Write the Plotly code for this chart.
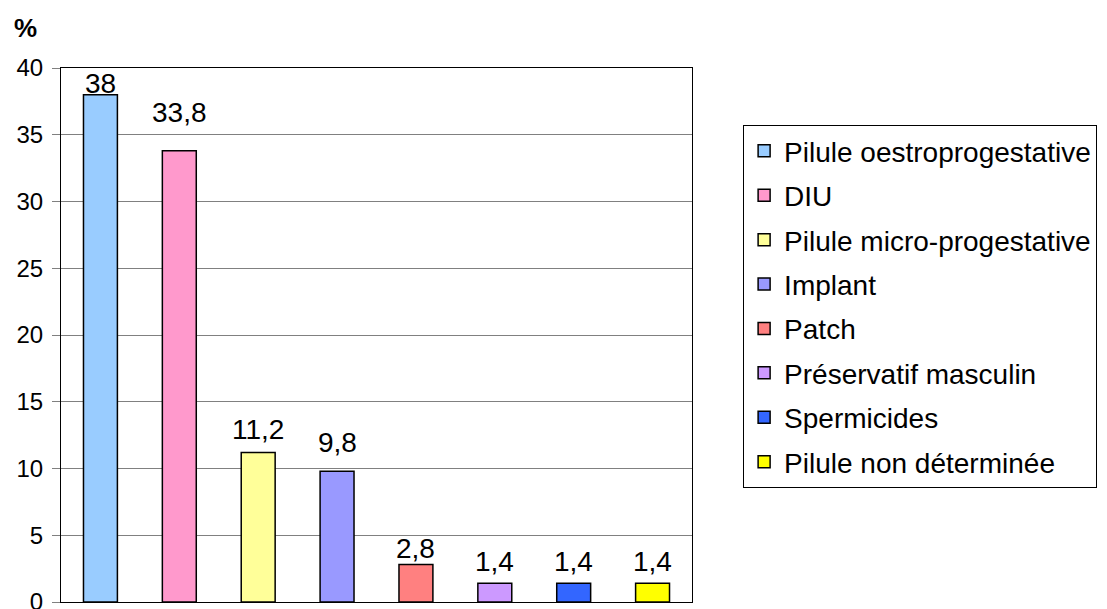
import plotly.graph_objects as go

categories = ["Pilule oestroprogestative", "DIU", "Pilule micro-progestative", "Implant",
              "Patch", "Préservatif masculin", "Spermicides", "Pilule non déterminée"]
values = [38, 33.8, 11.2, 9.8, 2.8, 1.4, 1.4, 1.4]
labels = ["38", "33,8", "11,2", "9,8", "2,8", "1,4", "1,4", "1,4"]
colors = ["#99CCFF", "#FF99CC", "#FFFF99", "#9999FF", "#FF8080", "#CC99FF", "#3366FF", "#FFFF00"]
y_ticks = [0, 5, 10, 15, 20, 25, 30, 35, 40]

# style: pixel gap between label baseline and bar top (as in the reference)
label_gap_px = [1, 28, 12, 18, 6, 11, 11, 11]

FONT = "Liberation Sans, Arial, sans-serif"

fig = go.Figure()
for i, (c, v, col) in enumerate(zip(categories, values, colors)):
    fig.add_trace(go.Bar(
        x=[c], y=[v], name=c,
        marker=dict(color=col, line=dict(color="black", width=1.5)),
        width=0.43, legendgroup=str(i), hoverinfo="skip",
    ))

annotations = []
for c, v, t, g in zip(categories, values, labels, label_gap_px):
    annotations.append(dict(
        x=c, y=v, xref="x", yref="y", text=t, showarrow=False,
        xanchor="center", yanchor="bottom", yshift=g - 7,
        font=dict(size=28, color="black", family=FONT),
    ))
annotations.append(dict(
    text="<b>%</b>", x=0, y=1, xref="paper", yref="paper",
    xshift=-49, yshift=40, showarrow=False,
    font=dict(size=26, color="black", family=FONT), xanchor="left", yanchor="middle",
))

fig.update_layout(
    width=1107, height=609,
    margin=dict(l=61, r=415, t=68, b=7, autoexpand=False),
    plot_bgcolor="white", paper_bgcolor="white",
    barmode="overlay",
    font=dict(family=FONT, color="black"),
    showlegend=True,
    legend=dict(
        x=1.081, y=0.893, xanchor="left", yanchor="top",
        font=dict(size=28, color="black", family=FONT),
        bordercolor="black", borderwidth=1,
        tracegroupgap=5, traceorder="grouped",
    ),
    xaxis=dict(showticklabels=False, showgrid=False, showline=True, linecolor="black",
               linewidth=1, mirror=True, ticks="", categoryorder="array",
               categoryarray=categories, automargin=False),
    yaxis=dict(range=[0, 40], tickvals=y_ticks, showgrid=True, gridcolor="#808080",
               gridwidth=1, showline=True, linecolor="black", linewidth=1, mirror=True,
               ticks="outside", ticklen=8, tickcolor="#808080", ticklabelstandoff=4,
               ticklabeloverflow="allow", automargin=False,
               tickfont=dict(size=24, color="black", family=FONT), zeroline=False),
    annotations=annotations,
)

fig.write_html("out.html", config={"displayModeBar": False},
               post_script="document.body.style.margin='0';")
